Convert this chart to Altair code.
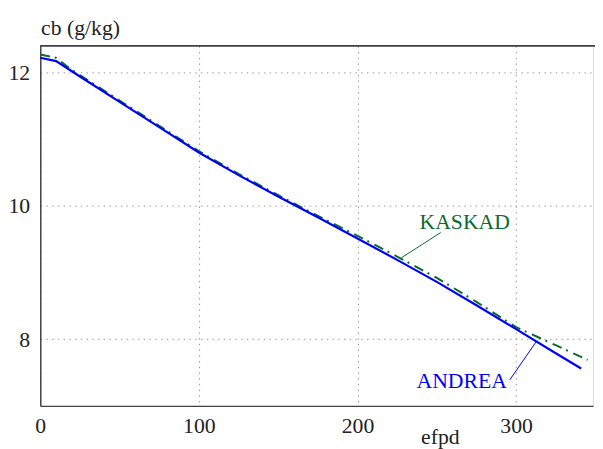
import altair as alt
import pandas as pd

# ---- data ----
andrea_x = [0, 10, 25, 50, 75, 100, 125, 150, 175, 200, 225, 250, 275, 300, 325, 341]
andrea_y = [12.22, 12.17, 11.94, 11.56, 11.18, 10.80, 10.46, 10.14, 9.83, 9.51, 9.19, 8.86, 8.51, 8.15, 7.79, 7.56]

kaskad_x = [0, 10, 18, 25, 50, 75, 100, 125, 150, 175, 200, 225, 250, 275, 300, 325, 345]
kaskad_y = [12.27, 12.22, 12.07, 11.96, 11.58, 11.20, 10.82, 10.48, 10.16, 9.85, 9.55, 9.24, 8.92, 8.56, 8.18, 7.91, 7.69]

x_ticks = [0, 100, 200, 300]
y_ticks = [8, 10, 12]
x_domain = [0, 348.5]
y_domain = [7, 12.4]

label_names = ["KASKAD", "ANDREA"]
label_x = [267.6, 265.7]
label_y = [9.65, 7.27]
leader_x = [227.6, 296.0]
leader_y = [9.22, 7.39]
leader_x2 = [252.5, 312.6]
leader_y2 = [9.60, 7.96]
series_colors = ["#0b6b2e", "#0000ff"]

FONT = "Liberation Serif, Times New Roman, serif"
W, H = 560.3, 365.0

df_a = pd.DataFrame({"efpd": andrea_x, "cb": andrea_y})
df_k = pd.DataFrame({"efpd": kaskad_x, "cb": kaskad_y})
df_lab = pd.DataFrame({"name": label_names, "x": label_x, "y": label_y,
                       "x1": leader_x, "y1": leader_y, "x2": leader_x2, "y2": leader_y2,
                       "color": series_colors})

xscale = alt.Scale(domain=x_domain, nice=False, zero=False)
yscale = alt.Scale(domain=y_domain, nice=False, zero=False)

xaxis = alt.Axis(values=x_ticks, format="d", title="efpd", grid=True, gridColor="#999999",
                 gridDash=[1.5, 4.3], gridWidth=1, ticks=False, tickSize=0,
                 domainColor="#444444", domainWidth=1.5,
                 labelFont=FONT, labelFontSize=22, labelColor="#222222",
                 labelPadding=10, labelAlign="center", labelFlush=False,
                 titleFont=FONT, titleFontSize=22, titleFontWeight="normal",
                 titleColor="#222222", titleX=405, titleY=38.2,
                 titleBaseline="alphabetic", titleAlign="center")
yaxis = alt.Axis(values=y_ticks, format="d", title="cb (g/kg)", grid=True, gridColor="#999999",
                 gridDash=[1.5, 4.3], gridWidth=1, ticks=False, tickSize=0,
                 domainColor="#444444", domainWidth=1.5,
                 labelFont=FONT, labelFontSize=22, labelColor="#222222",
                 labelPadding=10.7, labelAlign="right", labelBaseline="middle",
                 labelFlush=False,
                 titleFont=FONT, titleFontSize=22, titleFontWeight="normal",
                 titleColor="#222222", titleAngle=0, titleX=0.3, titleY=-11.8,
                 titleAlign="left", titleBaseline="alphabetic")

kaskad = alt.Chart(df_k).mark_line(color=series_colors[0], strokeWidth=2,
                                   strokeDash=[10, 5, 2, 6], clip=True).encode(
    x=alt.X("efpd:Q", scale=xscale, axis=xaxis),
    y=alt.Y("cb:Q", scale=yscale, axis=yaxis),
)
andrea = alt.Chart(df_a).mark_line(color=series_colors[1], strokeWidth=2.2, clip=True).encode(
    x=alt.X("efpd:Q", scale=xscale),
    y=alt.Y("cb:Q", scale=yscale),
)
leaders = alt.Chart(df_lab).mark_rule(strokeWidth=1).encode(
    x=alt.X("x1:Q", scale=xscale), y=alt.Y("y1:Q", scale=yscale),
    x2="x2:Q", y2="y2:Q",
    color=alt.Color("color:N", scale=None),
)
labels = alt.Chart(df_lab).mark_text(font=FONT, fontSize=22, align="center",
                                     baseline="alphabetic").encode(
    x=alt.X("x:Q", scale=xscale), y=alt.Y("y:Q", scale=yscale),
    text="name:N",
    color=alt.Color("color:N", scale=None),
)
top_frame = alt.Chart(df_lab).mark_rule(color="#444444", strokeWidth=1.5).encode(
    x=alt.value(0), x2=alt.value(W + 5), y=alt.value(0),
)

chart = alt.layer(kaskad, andrea, leaders, labels, top_frame).properties(
    width=W, height=H,
    autosize=alt.AutoSizeParams(type="none"),
    padding={"left": 32.7, "top": 35.3, "right": 2, "bottom": 40.7},
).configure_view(stroke=None).configure(background="white")

chart.save("out.html", embed_options={"renderer": "svg", "actions": False})
